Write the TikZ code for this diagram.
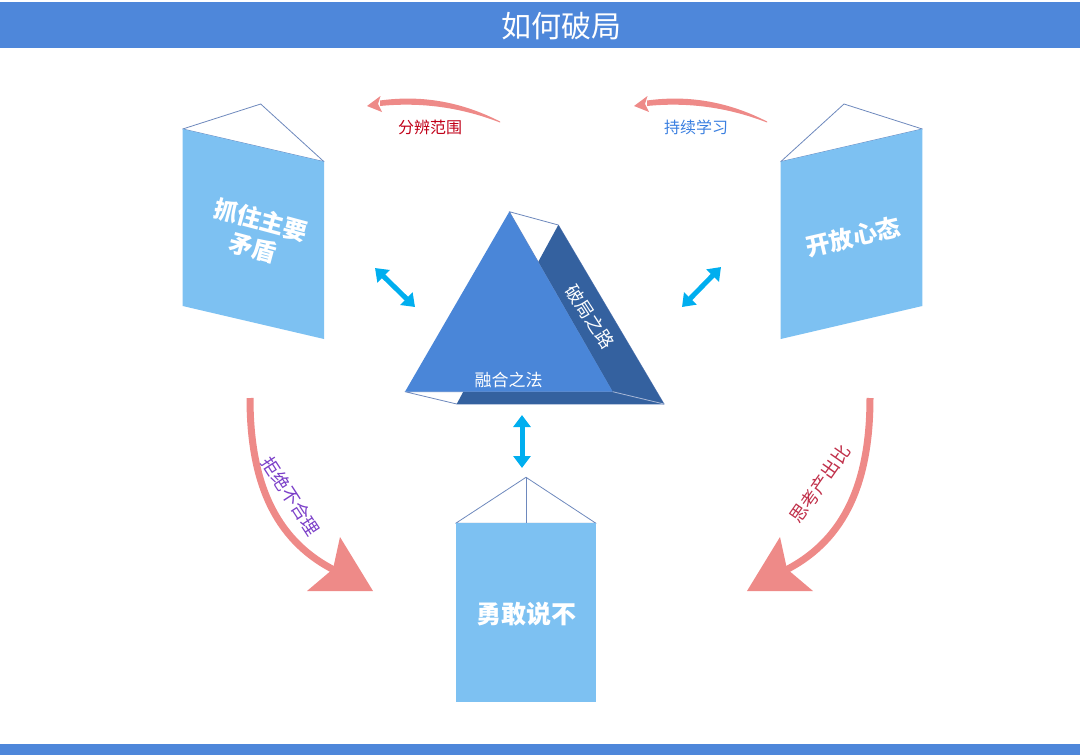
\documentclass[tikz,border=0pt]{standalone}
\usepackage{fontspec}
\newfontfamily\cjk{Noto Sans CJK SC}
\usetikzlibrary{arrows.meta}
\definecolor{barblue}{HTML}{4E87DA}
\definecolor{bookblue}{HTML}{7DC1F2}
\definecolor{trifront}{HTML}{4A86D8}
\definecolor{tridark}{HTML}{34619F}
\definecolor{edgeline}{HTML}{6E89BD}
\definecolor{cyanarrow}{HTML}{00AEEF}
\definecolor{salmon}{HTML}{EE8A88}
\definecolor{purpletext}{HTML}{7B3FC8}
\definecolor{redtext}{HTML}{C0304A}
\definecolor{darkred}{HTML}{C00018}
\definecolor{bluetext}{HTML}{3A7FE0}
\tikzset{
  bookface/.style={fill=bookblue},
  booktop/.style={fill=white, draw=edgeline, line width=0.8pt, line join=round},
  booktext/.style={text=white, font=\cjk\bfseries\fontsize{24}{29}\selectfont, align=center, inner sep=0pt},
  dblarrow/.style={cyanarrow, line width=5pt, {Triangle[width=17pt,length=12pt]}-{Triangle[width=17pt,length=12pt]}, shorten <=0pt, shorten >=0pt},
  bigshaft/.style={draw=salmon, line width=7pt},
  smalllabel/.style={font=\cjk\fontsize{16}{18}\selectfont, inner sep=0pt},
  sidelabel/.style={font=\cjk\fontsize{18}{20}\selectfont, inner sep=0pt},
}
\begin{document}
\begin{tikzpicture}[x=1pt,y=-1pt]
\useasboundingbox (0,0) rectangle (1080,755);
% bars
\fill[barblue] (0,2) rectangle (1080,48);
\node[font=\cjk\fontsize{30}{30}\selectfont, text=white, inner sep=0pt] (title) at (561,26) {如何破局};
\fill[barblue] (0,744) rectangle (1080,755);

% left book
\coordinate (LB1) at (182.7,129);
\coordinate (LBp) at (260.7,104);
\coordinate (LB2) at (324,161.7);
\coordinate (LB3) at (324,339);
\coordinate (LB4) at (182.7,306);
\filldraw[booktop] (LB1) -- (LBp) -- (LB2) -- cycle;
\fill[bookface] (LB1) -- (LB2) -- (LB3) -- (LB4) -- cycle;
\node[booktext, rotate=-15] (lefttext) at (257,234) {抓住主要\\矛盾};

% right book
\coordinate (RB1) at (780.7,161.7);
\coordinate (RBp) at (844,104);
\coordinate (RB2) at (922.3,129);
\coordinate (RB3) at (922.3,306);
\coordinate (RB4) at (780.7,339);
\filldraw[booktop] (RB1) -- (RBp) -- (RB2) -- cycle;
\fill[bookface] (RB1) -- (RB2) -- (RB3) -- (RB4) -- cycle;
\node[booktext, rotate=13] (righttext) at (853,237) {开放心态};

% bottom book
\coordinate (BB1) at (455.7,523.3);
\coordinate (BBp) at (526,477.3);
\coordinate (BBm) at (526,523.3);
\coordinate (BB2) at (596,523.3);
\coordinate (BB3) at (596,701.7);
\coordinate (BB4) at (455.7,701.7);
\filldraw[booktop] (BB1) -- (BBp) -- (BB2) -- cycle;
\draw[edgeline, line width=0.8pt] (BBp) -- (BBm);
\fill[bookface] (BB1) -- (BB2) -- (BB3) -- (BB4) -- cycle;
\node[booktext, font=\cjk\bfseries\fontsize{25}{29}\selectfont] (bottomtext) at (526,614) {勇敢说不};

% triangle prism
\coordinate (TA) at (509.3,211.7);
\coordinate (TL) at (405,391.7);
\coordinate (TR) at (612.7,391.7);
\coordinate (BA) at (558.3,225);
\coordinate (BR) at (664,404);
\coordinate (BL) at (456.7,404);
\filldraw[fill=white, draw=edgeline, line width=0.8pt, line join=round] (TA) -- (BA) -- (BR) -- (TR) -- cycle;
\filldraw[fill=white, draw=edgeline, line width=0.8pt, line join=round] (TL) -- (TR) -- (BR) -- (BL) -- cycle;
\fill[tridark] (538.3,261.7) -- (BA) -- (BR) -- (TR) -- cycle;
\fill[tridark] (463.3,391.7) -- (TR) -- (BR) -- (BL) -- cycle;
\draw[edgeline!60, line width=0.8pt] (TR) -- (BR);
\fill[trifront] (TA) -- (TL) -- (TR) -- cycle;
\node[font=\cjk\fontsize{17}{19}\selectfont, text=white, inner sep=0pt] (fuhe) at (508.5,380) {融合之法};
\node[font=\cjk\fontsize{18}{20}\selectfont, text=white, inner sep=0pt, rotate=-57] (pojulu) at (590,317) {破局之路};

% cyan double arrows
\coordinate (da1) at (375,268);
\coordinate (da2) at (415,307);
\coordinate (db1) at (721,267);
\coordinate (db2) at (682,307);
\coordinate (dc1) at (522,415);
\coordinate (dc2) at (522,468);
\draw[dblarrow] (da1) -- (da2);
\draw[dblarrow] (db1) -- (db2);
\draw[dblarrow] (dc1) -- (dc2);

% top thin curved arrows
\fill[salmon] (500,121.5) .. controls (460,101) and (420,95) .. (380,100.5)
  -- (380,106) .. controls (420,102) and (460,107) .. (500,122.5) -- cycle;
\fill[salmon] (380.5,96) -- (367,106) -- (382,112) -- (378,104) -- cycle;
\node[smalllabel, text=darkred] (fenbian) at (430,127) {分辨范围};

\fill[salmon] (767,121.5) .. controls (727,101) and (687,95) .. (647,100.5)
  -- (647,106) .. controls (687,102) and (727,107) .. (767,122.5) -- cycle;
\fill[salmon] (647.5,96) -- (634,106) -- (649,112) -- (645,104) -- cycle;
\node[smalllabel, text=bluetext] (chixu) at (696,127) {持续学习};

% big curved arrows
\coordinate (la0) at (250,398);
\coordinate (la1) at (336,571);
\draw[bigshaft] (la0) .. controls (250,490) and (280,543) .. (la1);
\fill[salmon] (340,537) -- (373,591) -- (307,591) -- (333,569) -- cycle;
\node[sidelabel, text=purpletext, rotate=-57] (jujue) at (291,496) {拒绝不合理};

\coordinate (ra0) at (870,398);
\coordinate (ra1) at (784,571);
\draw[bigshaft] (ra0) .. controls (870,490) and (840,543) .. (ra1);
\fill[salmon] (780,537) -- (747,591) -- (813,591) -- (787,569) -- cycle;
\node[sidelabel, text=redtext, rotate=55] (sikao) at (820,484) {思考产出比};
\end{tikzpicture}
\end{document}
